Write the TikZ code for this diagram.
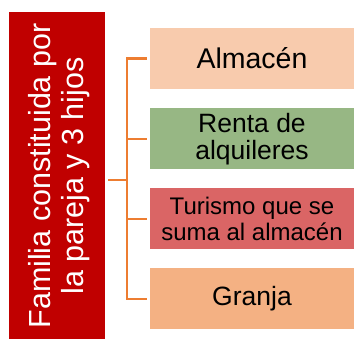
\documentclass[tikz,border=0pt]{standalone}
\usepackage{fontspec}
\setmainfont{Liberation Sans}
\definecolor{famred}{HTML}{C00000}
\definecolor{conorange}{HTML}{ED7D31}
\definecolor{peach}{HTML}{F8CBAD}
\definecolor{sage}{HTML}{97B784}
\definecolor{rose}{HTML}{DA6565}
\definecolor{apricot}{HTML}{F4B183}
\tikzset{
  itembox/.style={rectangle, minimum width=204pt, minimum height=61pt, inner sep=0pt, align=center, text=black},
  conn/.style={draw=conorange, line width=2.3pt}
}
\begin{document}
\begin{tikzpicture}[x=1pt,y=-1pt]
\useasboundingbox (0,0) rectangle (354,339);
\node[rectangle, fill=famred, minimum width=96pt, minimum height=327pt, inner sep=0pt] (fam) at (57,175.5) {};
\node[rotate=90, inner sep=0pt, text=white, align=center, font=\fontsize{30.5}{33}\selectfont] (famtext) at (59.5,176)
  {Familia constituida por\\la pareja y 3 hijos};
\node[itembox, fill=peach, font=\fontsize{28.5}{31}\selectfont] (b1) at (252,58.5) {Almacén};
\node[itembox, fill=sage, font=\fontsize{26.5}{27}\selectfont] (b2) at (252,139) {Renta de\\alquileres};
\node[itembox, fill=rose, font=\fontsize{24}{26}\selectfont] (b3) at (252,219) {Turismo que se\\suma al almacén};
\node[itembox, fill=apricot, font=\fontsize{26.5}{30}\selectfont] (b4) at (252,299) {Granja};
\coordinate (root) at (108,180);
\coordinate (mid) at (127,180);
\draw[conn] (root) -- (mid);
\draw[conn] (mid) |- ([xshift=-3pt]b1.west);
\draw[conn] (mid) |- ([xshift=-3pt]b2.west);
\draw[conn] (mid) |- ([xshift=-3pt]b3.west);
\draw[conn] (mid) |- ([xshift=-3pt]b4.west);
\end{tikzpicture}
\end{document}
